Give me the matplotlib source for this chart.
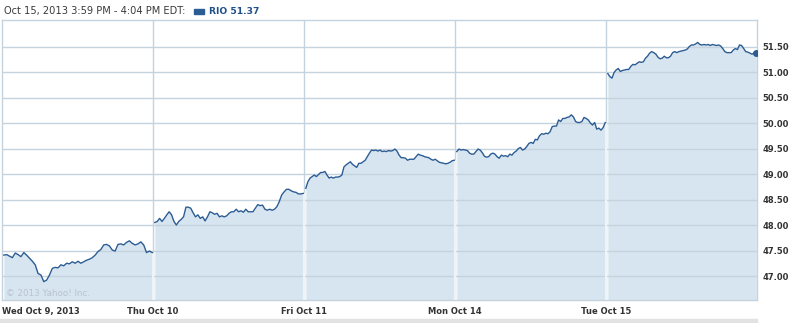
import numpy as np
import matplotlib.pyplot as plt

# RIO intraday quotes, one list per trading day
wed = [47.41, 47.42, 47.39, 47.36, 47.45, 47.42, 47.38, 47.46, 47.41, 47.35,
       47.29, 47.22, 47.05, 47.02, 46.89, 46.92, 47.02, 47.15, 47.17, 47.16,
       47.22, 47.20, 47.25, 47.24, 47.28, 47.25, 47.29, 47.25, 47.28, 47.31,
       47.33, 47.36, 47.41, 47.48, 47.52, 47.61, 47.62, 47.59, 47.51, 47.49,
       47.62, 47.63, 47.61, 47.66, 47.69, 47.64, 47.61, 47.63, 47.67, 47.61,
       47.46, 47.49, 47.46]
thu = [48.05, 48.07, 48.13, 48.07, 48.13, 48.20, 48.26, 48.20, 48.07, 48.00,
       48.07, 48.11, 48.16, 48.35, 48.35, 48.33, 48.24, 48.16, 48.20, 48.13,
       48.16, 48.08, 48.16, 48.26, 48.24, 48.21, 48.23, 48.16, 48.18, 48.16,
       48.18, 48.23, 48.26, 48.26, 48.31, 48.26, 48.28, 48.25, 48.31, 48.26,
       48.26, 48.26, 48.33, 48.40, 48.38, 48.39, 48.31, 48.29, 48.31, 48.29,
       48.31, 48.36, 48.46, 48.59, 48.65, 48.70, 48.70, 48.67, 48.65, 48.64,
       48.61, 48.61, 48.62]
fri = [48.72, 48.85, 48.92, 48.95, 48.98, 48.95, 48.99, 49.03, 49.03, 49.05,
       48.98, 48.92, 48.94, 48.92, 48.94, 48.94, 48.95, 48.98, 49.14, 49.18,
       49.21, 49.24, 49.19, 49.16, 49.13, 49.21, 49.21, 49.24, 49.27, 49.34,
       49.41, 49.47, 49.46, 49.47, 49.45, 49.47, 49.44, 49.45, 49.44, 49.46,
       49.45, 49.46, 49.49, 49.45, 49.37, 49.32, 49.32, 49.31, 49.27, 49.29,
       49.29, 49.29, 49.34, 49.39, 49.37, 49.36, 49.34, 49.33, 49.32, 49.29,
       49.27, 49.29, 49.26, 49.23, 49.22, 49.21, 49.20, 49.21, 49.23, 49.26,
       49.27]
mon = [49.44, 49.49, 49.47, 49.48, 49.47, 49.46, 49.41, 49.39, 49.39, 49.44,
       49.49, 49.47, 49.42, 49.35, 49.33, 49.34, 49.39, 49.41, 49.39, 49.34,
       49.31, 49.37, 49.35, 49.36, 49.34, 49.39, 49.37, 49.42, 49.45, 49.50,
       49.52, 49.47, 49.49, 49.54, 49.60, 49.62, 49.60, 49.68, 49.67, 49.75,
       49.79, 49.78, 49.80, 49.79, 49.83, 49.93, 49.94, 49.94, 50.06, 50.03,
       50.09, 50.09, 50.11, 50.12, 50.16, 50.12, 50.03, 50.01, 50.01, 50.03,
       50.11, 50.09, 50.06, 50.00, 49.96, 50.01, 49.88, 49.90, 49.86, 49.91,
       50.01]
tue = [50.97, 50.91, 50.88, 50.99, 51.04, 51.07, 51.01, 51.03, 51.04, 51.05,
       51.05, 51.11, 51.15, 51.14, 51.17, 51.20, 51.19, 51.20, 51.27, 51.31,
       51.37, 51.40, 51.38, 51.35, 51.29, 51.26, 51.27, 51.31, 51.28, 51.28,
       51.31, 51.38, 51.40, 51.38, 51.40, 51.41, 51.42, 51.43, 51.45, 51.50,
       51.53, 51.53, 51.55, 51.58, 51.54, 51.53, 51.54, 51.53, 51.54, 51.52,
       51.54, 51.53, 51.52, 51.53, 51.51, 51.46, 51.40, 51.38, 51.38, 51.38,
       51.43, 51.46, 51.44, 51.53, 51.52, 51.46, 51.40, 51.39, 51.37, 51.35,
       51.37, 51.37]
days = [wed, thu, fri, mon, tue]
day_labels = ['Wed Oct 9, 2013', 'Thu Oct 10', 'Fri Oct 11', 'Mon Oct 14', 'Tue Oct 15']
y_ticks = [47.00, 47.50, 48.00, 48.50, 49.00, 49.50, 50.00, 50.50, 51.00, 51.50]
symbol = 'RIO'
last_price = 51.37

line_c = '#2b5c93'
fill_c = '#d6e5f0'
grid_c = '#c5d3df'

fig = plt.figure(figsize=(8, 3.23), dpi=100)
ax = fig.add_axes([2 / 800, 23 / 323, 755 / 800, 280 / 323])
ymin, ymax = 46.53, 52.02

for i, vals in enumerate(days):
    x = np.linspace(i + 0.012, i + 0.995, len(vals))
    ax.fill_between(x, vals, ymin - 1, color=fill_c, lw=0, zorder=1)
    ax.plot(x, vals, color=line_c, lw=1.0, zorder=4)
    if i == len(days) - 1:
        ax.plot(x[-1], vals[-1], 'o', color=line_c, ms=4, zorder=5)

# grid: horizontal lines over the fill, vertical lines gray above / white inside fill
for v in y_ticks:
    ax.axhline(v, color=grid_c, lw=1.0, zorder=2)
for i in range(1, len(days)):
    ax.axvline(i, color=grid_c, lw=1.0, zorder=0.5)
    low = min(days[i - 1][-1], days[i][0])
    ax.vlines(i, ymin - 1, low, color='#eef3f8', lw=1.6, zorder=3)

ax.set_xlim(0, len(days))
ax.set_ylim(ymin, ymax)

ax.set_yticks(y_ticks)
ax.set_yticklabels([f'{v:.2f}' for v in y_ticks])
ax.yaxis.tick_right()
ax.set_xticks(range(len(days)))
ax.set_xticklabels(day_labels)
ax.get_xticklabels()[0].set_horizontalalignment('left')
ax.tick_params(length=0, labelsize=6, labelcolor='#333333')
ax.tick_params(axis='y', pad=4)
ax.tick_params(axis='x', pad=5)
for t in ax.get_xticklabels() + ax.get_yticklabels():
    t.set_fontweight('bold')

for s in ax.spines.values():
    s.set_color(grid_c)
    s.set_linewidth(1.0)

ax.text(0.005, 0.015, '\u00a9 2013 Yahoo! Inc.', transform=ax.transAxes,
        fontsize=6.3, color='#b8c4d0', zorder=5)

# header
fig.text(4 / 800, 1 - 11 / 323, 'Oct 15, 2013 3:59 PM - 4:04 PM EDT:', fontsize=7.1,
         color='#3a3a3a', va='center')
fig.patches.append(plt.Rectangle((194 / 800, 1 - 14 / 323), 10 / 800, 5 / 323,
                                 transform=fig.transFigure, color=line_c))
fig.text(209 / 800, 1 - 11 / 323, f'{symbol} {last_price:.2f}', fontsize=6.6,
         color='#1f4f8a', fontweight='bold', va='center')

# bottom strip
fig.patches.append(plt.Rectangle((0, 0), 757 / 800, 4 / 323, transform=fig.transFigure,
                                 color='#e2e2e2'))

fig.savefig('out.png', dpi=100)
